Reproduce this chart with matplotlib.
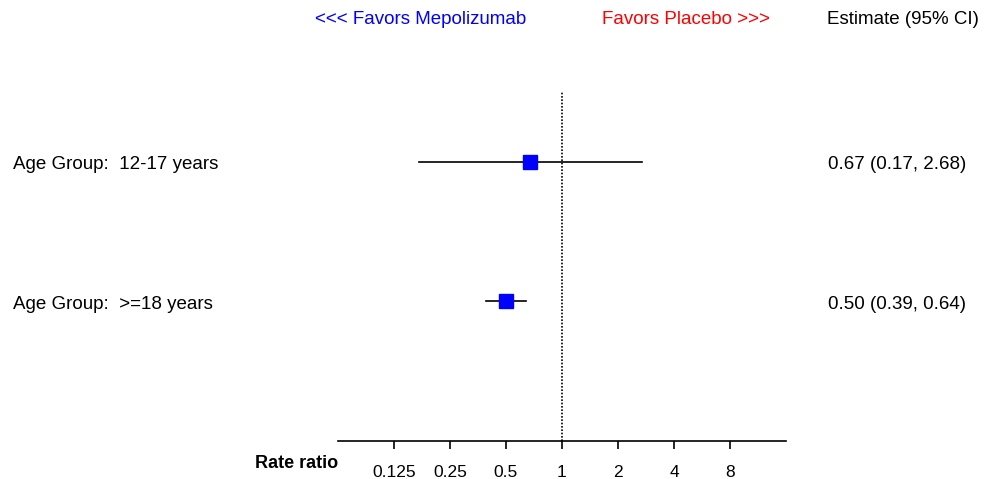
import numpy as np
import matplotlib
matplotlib.use("Agg")
import matplotlib.pyplot as plt
import matplotlib.transforms as mtransforms

plt.rcParams['font.family'] = ['Liberation Sans', 'DejaVu Sans']

labels = ["Age Group:  12-17 years", "Age Group:  >=18 years"]
estimates = [0.67, 0.50]
lower = [0.17, 0.39]
upper = [2.68, 0.64]
tick_values = [0.125, 0.25, 0.5, 1, 2, 4, 8]
tick_labels = ["0.125", "0.25", "0.5", "1", "2", "4", "8"]

W, H = 984, 479
fig = plt.figure(figsize=(W / 100, H / 100), dpi=100)
# axes: x from px 338 to 786, y from px 78 (top) to 441 (bottom)
ax = fig.add_axes([338 / W, (H - 441) / H, (786 - 338) / W, (441 - 78) / H])
ax.set_xscale('log', base=2)
ax.set_xlim(1 / 16, 16)
ax.set_ylim(2.0, -0.6)

rows = np.arange(len(labels))
# reference line: alternating long solid and dotted stretches
dash = (0, tuple([1.0, 1.0] * 18 + [36, 1.0]))
ax.plot([1, 1], [2.0, -0.5], color='black', lw=1.2, linestyle=dash, zorder=1)
for i in rows:
    ax.plot([lower[i], upper[i]], [i, i], color='black', lw=1.2, zorder=2)
ax.plot(estimates, rows, linestyle='none', marker='s', markersize=9.5,
        color='#0000ff', zorder=3)

for s in ['top', 'right', 'left']:
    ax.spines[s].set_visible(False)
ax.spines['bottom'].set_linewidth(1.2)
ax.set_yticks([])
ax.set_xticks(tick_values)
ax.set_xticklabels(tick_labels)
ax.minorticks_off()
ax.tick_params(axis='x', direction='out', length=6, width=1.2, pad=11, labelsize=12.5)

trans = mtransforms.blended_transform_factory(fig.transFigure, ax.transData)
off = mtransforms.ScaledTranslation(0, -3 / 100, fig.dpi_scale_trans)
for i in rows:
    ax.text(13 / W, i, labels[i], transform=trans + off, ha='left', va='center',
            fontsize=13.5, clip_on=False)
    ax.text(828 / W, i, f"{estimates[i]:.2f} ({lower[i]:.2f}, {upper[i]:.2f})",
            transform=trans + off, ha='left', va='center', fontsize=13.5, clip_on=False)

fig.text(421 / W, 1 - 19 / H, "<<< Favors Mepolizumab", color='#0000ff',
         ha='center', va='center', fontsize=13.5)
fig.text(686 / W, 1 - 19 / H, "Favors Placebo >>>", color='#ff0000',
         ha='center', va='center', fontsize=13.5)
fig.text(827 / W, 1 - 19 / H, "Estimate (95% CI)", color='black',
         ha='left', va='center', fontsize=13.5)
fig.text(255 / W, 1 - 464 / H, "Rate ratio", color='black', fontweight='bold',
         ha='left', va='center', fontsize=13)

fig.savefig("out.png", dpi=100, facecolor='white')
